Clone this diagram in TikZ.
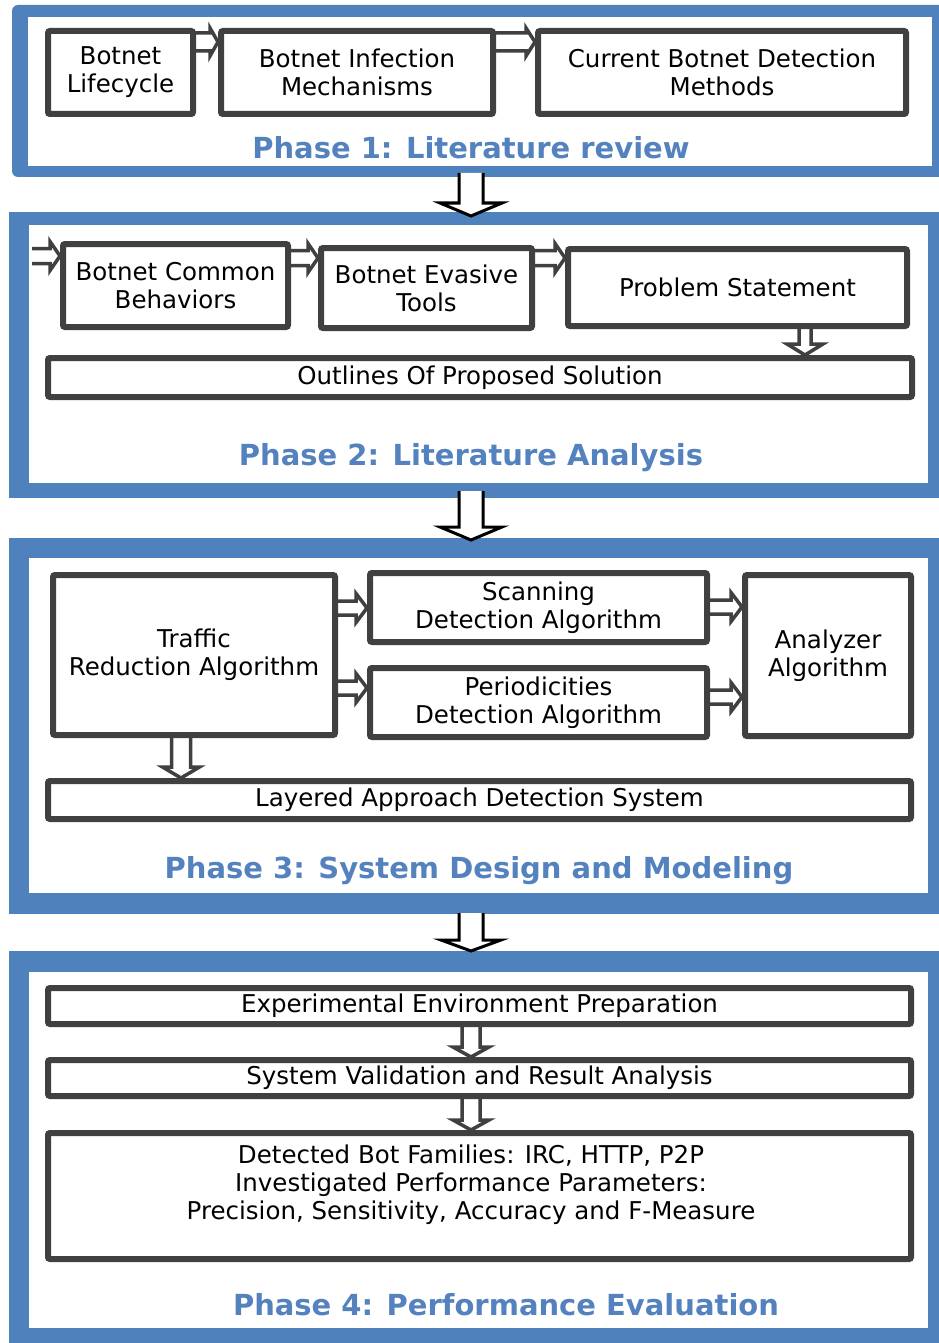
\documentclass[tikz,border=0pt]{standalone}
\usepackage{fontspec}
\setmainfont{DejaVu Sans}
\usetikzlibrary{calc}

\definecolor{frameblue}{RGB}{79,129,189}
\definecolor{titleblue}{RGB}{84,130,190}
\definecolor{boxgray}{RGB}{64,64,64}

\pgfdeclarelayer{frames}
\pgfdeclarelayer{arrows}
\pgfsetlayers{frames,arrows,main}

\newcommand\bodyfont{\fontsize{24.5}{28}\selectfont}
\newcommand\titlefont{\fontsize{29}{34}\selectfont\bfseries}

\tikzset{
  stepbox/.style={draw=boxgray, line width=6pt, fill=white, rounded corners=2pt,
    inner sep=0pt, outer sep=0pt, align=center, font=\bodyfont},
  boxtext/.style={inner sep=0pt, align=center, font=\bodyfont},
  blk/.style={draw=boxgray, line width=3.5pt, fill=white, line join=miter},
  bigblk/.style={draw=black, line width=3pt, fill=white, line join=miter},
  phasetitle/.style={text=titleblue, font=\titlefont, anchor=base, inner sep=0pt},
  panel/.style={fill=white, inner sep=0pt, outer sep=0pt},
}

% horizontal block arrow: [style]{start}{target node}{shaft half}{head half}{head length}
\newcommand\hblk[6][blk]{%
  \path #2 coordinate (hs);
  \path (#3.west |- hs) ++(-3pt,0) coordinate (ht);
  \filldraw[#1] ([yshift=#4]hs) -- ([xshift=-#6,yshift=#4]ht)
    -- ([xshift=-#6,yshift=#5]ht) -- (ht) -- ([xshift=-#6,yshift=-#5]ht)
    -- ([xshift=-#6,yshift=-#4]ht) -- ([yshift=-#4]hs);
}
% vertical block arrow: [style]{start}{tip}{shaft half}{head half}{head length}
\newcommand\vblk[6][blk]{%
  \path #2 coordinate (vs);
  \path #3 coordinate (ve);
  \path (vs |- ve) coordinate (vt);
  \filldraw[#1] ([xshift=-#4]vs) -- ([xshift=-#4,yshift=#6]vt)
    -- ([xshift=-#5,yshift=#6]vt) -- (vt) -- ([xshift=#5,yshift=#6]vt)
    -- ([xshift=#4,yshift=#6]vt) -- ([xshift=#4]vs);
}

\begin{document}
\begin{tikzpicture}[x=1pt, y=-1pt]
\useasboundingbox (0,0) rectangle (939,1343);
\clip (0,0) rectangle (939,1343);

% ---------- phase frames ----------
\begin{pgfonlayer}{frames}
  \fill[white] (0,0) rectangle (939,1343);
  \fill[frameblue, rounded corners=6pt] (12,5) rectangle (960,177);
  \node[panel, minimum width=904pt, minimum height=149pt] (ph1) at (480,91.5) {};
  \fill[frameblue] (9,212) rectangle (960,498);
  \node[panel, minimum width=899pt, minimum height=258pt] (ph2) at (478.5,354) {};
  \fill[frameblue] (9,538) rectangle (960,914);
  \node[panel, minimum width=899pt, minimum height=335pt] (ph3) at (478.5,725.5) {};
  \fill[frameblue] (9,951) rectangle (960,1360);
  \node[panel, minimum width=899pt, minimum height=356pt] (ph4) at (478.5,1150) {};
\end{pgfonlayer}

% ---------- Phase 1 ----------
\node[stepbox, minimum width=145pt, minimum height=83pt] (lc) at (120.5,72.5) {Botnet\\Lifecycle};
\node[stepbox, minimum width=272pt, minimum height=83pt] (inf) at (357,72.5) {Botnet Infection\\Mechanisms};
\node[stepbox, minimum width=368pt, minimum height=83pt] (cur) at (722,72.5) {Current Botnet Detection\\Methods};
\node[phasetitle] (t1) at (471,159) {Phase 1: Literature review};

% ---------- Phase 2 ----------
\node[stepbox, minimum width=225pt, minimum height=83pt] (cb) at (175.5,285.5) {Botnet Common\\Behaviors};
\node[stepbox, minimum width=211pt, minimum height=80pt] (ev) at (426.5,288) {Botnet Evasive\\Tools};
\node[stepbox, minimum width=339pt, minimum height=77pt] (ps) at (737.5,287.5) {Problem Statement};
\node[stepbox, minimum width=864pt, minimum height=39pt] (ol) at (480,377.5) {Outlines Of Proposed Solution};
\coordinate (in2) at (32,256);
\node[phasetitle] (t2) at (471,465) {Phase 2: Literature Analysis};

% ---------- Phase 3 ----------
\node[stepbox, minimum width=282pt, minimum height=160pt] (tr) at (194,655) {Traffic\\Reduction Algorithm};
\node[stepbox, minimum width=337pt, minimum height=69pt] (sc) at (538.5,607.5) {Scanning\\Detection Algorithm};
\node[stepbox, minimum width=337pt, minimum height=69pt] (pe) at (538.5,702.5) {Periodicities\\Detection Algorithm};
\node[stepbox, minimum width=166pt, minimum height=161pt] (an) at (828,655.5) {Analyzer\\Algorithm};
\node[stepbox, minimum width=863pt, minimum height=38pt] (la) at (479.5,800) {Layered Approach Detection System};
\node[phasetitle] (t3) at (479,878) {Phase 3: System Design and Modeling};

% ---------- Phase 4 ----------
\node[stepbox, minimum width=863pt, minimum height=36pt] (ex) at (479.5,1006) {Experimental Environment Preparation};
\node[stepbox, minimum width=863pt, minimum height=36pt] (sv) at (479.5,1078) {System Validation and Result Analysis};
\node[stepbox, minimum width=863pt, minimum height=126pt] (dt) at (479.5,1196) {};
\node[boxtext] (dttext) at (471,1185) {Detected Bot Families: IRC, HTTP, P2P\\Investigated Performance Parameters:\\Precision, Sensitivity, Accuracy and F-Measure};
\node[phasetitle] (t4) at (506,1315) {Phase 4: Performance Evaluation};

% ---------- connectors ----------
\begin{pgfonlayer}{arrows}
  % between phases
  \vblk[bigblk]{([xshift=-9pt,yshift=-7pt]ph1.south)}{([yshift=9pt]ph2.north)}{12pt}{31pt}{13pt}
  \vblk[bigblk]{([xshift=-7.5pt,yshift=-8pt]ph2.south)}{([yshift=18pt]ph3.north)}{12pt}{31pt}{13pt}
  \vblk[bigblk]{([xshift=-7.5pt,yshift=-20pt]ph3.south)}{([yshift=21pt]ph4.north)}{12pt}{30pt}{11pt}
  % phase 1
  \hblk{([yshift=-11pt]lc.north east)}{inf}{9pt}{14pt}{8pt}
  \hblk{([yshift=-11pt]inf.north east)}{cur}{9pt}{14pt}{9pt}
  % phase 2
  \hblk{(in2)}{cb}{7.5pt}{14.5pt}{10pt}
  \hblk{([yshift=-14pt]cb.north east)}{ev}{7.5pt}{14.5pt}{10pt}
  \hblk{([yshift=-10pt]ev.north east)}{ps}{7.5pt}{14.5pt}{10pt}
  \vblk{([xshift=67.5pt]ps.south)}{([yshift=3pt]ol.north)}{6pt}{18pt}{11pt}
  % phase 3
  \hblk{([yshift=-33pt]tr.north east)}{sc}{7pt}{14.5pt}{11pt}
  \hblk{([yshift=-113pt]tr.north east)}{pe}{7pt}{14.5pt}{11pt}
  \hblk{([yshift=-34pt]sc.north east)}{an}{7pt}{14.5pt}{11pt}
  \hblk{([yshift=-29pt]pe.north east)}{an}{7pt}{14.5pt}{11pt}
  \vblk{([xshift=-13pt]tr.south)}{([yshift=3pt]la.north)}{9.5pt}{18.5pt}{11pt}
  % phase 4
  \vblk{([xshift=-8.5pt]ex.south)}{([yshift=3pt]sv.north)}{9pt}{18pt}{10pt}
  \vblk{([xshift=-8.5pt]sv.south)}{([yshift=3pt]dt.north)}{9pt}{18pt}{10pt}
\end{pgfonlayer}
\end{tikzpicture}
\end{document}
